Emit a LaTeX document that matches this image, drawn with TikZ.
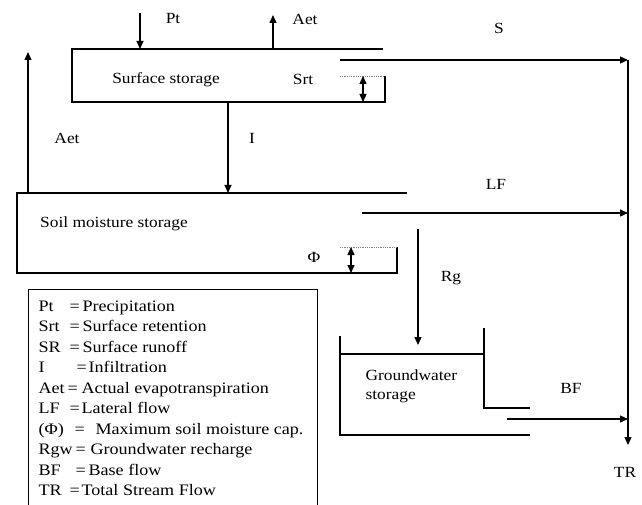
\documentclass[tikz,border=0pt]{standalone}
\usepackage{fontspec}
\setmainfont{Liberation Serif}
\newfontfamily\labelfont{Liberation Serif}[FakeStretch=1.12]
\newfontfamily\legendfont{Liberation Serif}[FakeStretch=1.13]
\usetikzlibrary{arrows.meta}
\tikzset{lbl/.style={inner sep=0pt,font=\labelfont\fontsize{15.5}{19}\selectfont},
    wall/.style={line width=1.2pt},
    level/.style={densely dotted,gray,line width=0.8pt},
    legendrow/.style={anchor=base west,inner sep=0pt,font=\legendfont\fontsize{16}{20}\selectfont}
}

\begin{document}
\begin{tikzpicture}[x=1pt,y=-1pt,line width=1.2pt,>={Triangle[length=8pt,width=7pt]}]
    \useasboundingbox (0,0) rectangle (642,505);

    % Surface storage
    \draw[wall] (383,49) -- (72,49) -- (72,102) -- (385,102) -- (385,76);
    \draw[level] (340,76) -- (385,76);
    \draw[<->] (363,76) -- (363,102);
    \node[lbl] (surface) at (166,80) {Surface storage};
    \node[lbl] (srt) at (303,79) {Srt};

    % Precipitation and evapotranspiration
    \draw[->] (140,13) -- (140,49);
    \node[lbl] (pt) at (173,19) {Pt};
    \draw[->] (273,49) -- (273,15);
    \node[lbl] (aettop) at (305,19) {Aet};
    \draw[->] (28,193) -- (28,52);
    \node[lbl] (aetleft) at (67,138) {Aet};

    % Surface runoff
    \draw[->] (340,60) -- (628,60);
    \node[lbl] (s) at (499,28) {S};

    % Infiltration
    \draw[->] (228,102) -- (228,193);
    \node[lbl] (i) at (252,138) {I};

    % Soil moisture storage
    \draw[wall] (407,193) -- (17,193) -- (17,273) -- (397,273) -- (397,247);
    \draw[level] (340,247) -- (397,247);
    \draw[<->] (351,247) -- (351,273);
    \node[lbl] (soil) at (114,224) {Soil moisture storage};
    \node[lbl] (phi) at (314,257) {Φ};

    % Lateral flow
    \draw[->] (362,213) -- (628,213);
    \node[lbl] (lf) at (496,184) {LF};

    % Recharge
    \draw[->] (418,229) -- (418,345);
    \node[lbl] (rg) at (451,278) {Rg};

    % Groundwater storage
    \draw[wall] (340,336) -- (340,435) -- (530,435);
    \draw[wall] (340,354) -- (484,354);
    \draw[wall] (484,328) -- (484,408) -- (530,408);
    \node[lbl,align=left,anchor=north west] (ground) at (365,369) {Groundwater\\storage};

    % Base flow and total stream flow
    \draw[->] (507,419) -- (628,419);
    \node[lbl] (bf) at (571,388) {BF};
    \draw[->] (628,60) -- (628,445);
    \node[lbl] (tr) at (625,472) {TR};

    % Legend
    \draw[line width=0.9pt] (28,505) -- (28,289) -- (317,289) -- (317,505);
    \foreach \abbr/\wa/\wb/\desc [count=\n] in {Pt/31/13/Precipitation, Srt/31/13/Surface retention,
        SR/31/13/Surface runoff, I/38/12/Infiltration, Aet/29/14/Actual evapotranspiration,
        LF/31/12/Lateral flow, {(Φ)}/36/21/Maximum soil moisture cap.,
        Rgw/37/15/Groundwater recharge, BF/37/13/Base flow, TR/31/12/Total Stream Flow}
        \node[legendrow] (leg\n) at (38,{311+20.5*(\n-1)})
            {\makebox[\wa pt][l]{\abbr}\makebox[\wb pt][l]{=}\desc};
\end{tikzpicture}
\end{document}
